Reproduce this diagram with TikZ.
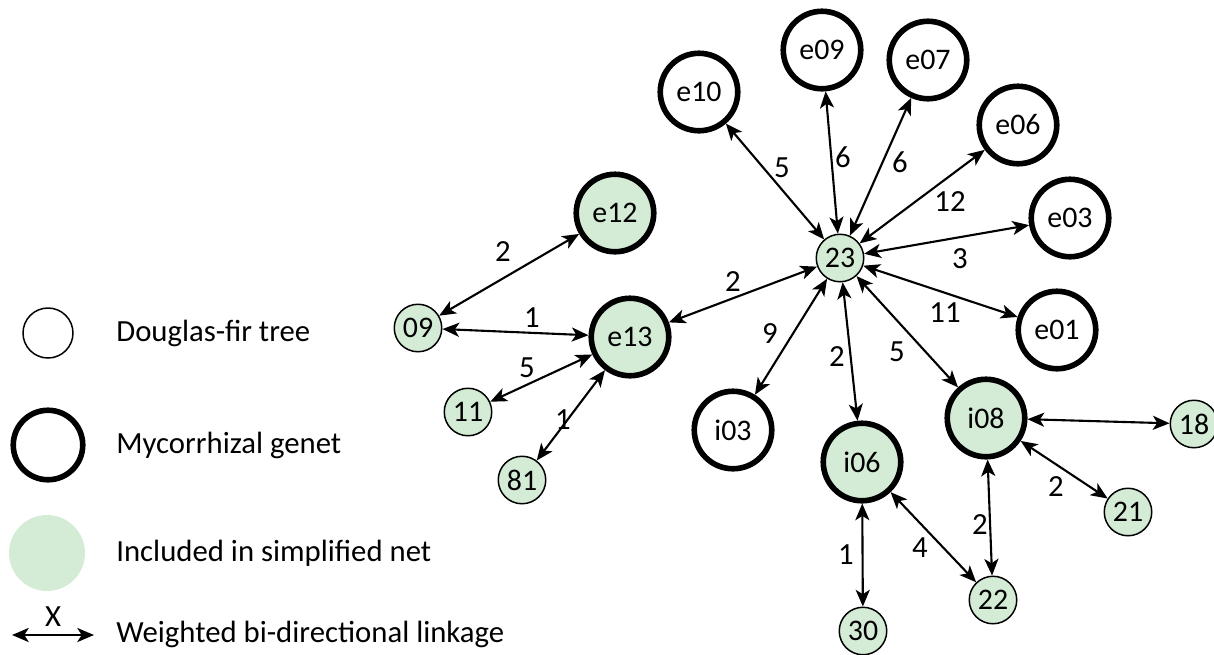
\documentclass[tikz,border=0pt]{standalone}
\usepackage{fontspec}
\setmainfont{Carlito}
\usetikzlibrary{arrows.meta}
\definecolor{netgreen}{RGB}{212,236,214}
\begin{document}
\begin{tikzpicture}[x=0.02cm,y=-0.02cm,
  nodetext/.style={font=\fontsize{17}{20}\selectfont},
  tree/.style={circle,draw,line width=3.2pt,minimum size=1.55cm,inner sep=0pt,nodetext},
  treegreen/.style={tree,fill=netgreen},
  small/.style={circle,draw,line width=0.85pt,fill=netgreen,minimum size=0.95cm,inner sep=0pt,nodetext},
  link/.style={{Stealth[length=9.5pt,width=8pt,inset=2.5pt]}-{Stealth[length=9.5pt,width=8pt,inset=2.5pt]},line width=1.2pt},
  lbl/.style={font=\fontsize{17.5}{20}\selectfont,inner sep=0pt},
  legtext/.style={font=\fontsize{17.5}{20}\selectfont,anchor=west,inner sep=0pt}]
\useasboundingbox (0,0) rectangle (1214,654);

% hub and outer genets
\node[small] (n23) at (840,258) {23};
\node[tree] (e10) at (699,92) {e10};
\node[tree] (e09) at (822,50) {e09};
\node[tree] (e07) at (928,60) {e07};
\node[tree] (e06) at (1018,125) {e06};
\node[tree] (e03) at (1070,218) {e03};
\node[tree] (e01) at (1057,330) {e01};
\node[treegreen] (e12) at (615,213) {e12};
\node[treegreen] (e13) at (630,337) {e13};
\node[tree] (i03) at (733,430) {i03};
\node[treegreen] (i06) at (862,462) {i06};
\node[treegreen] (i08) at (986,418) {i08};

% small trees
\node[small] (n09) at (418,328) {09};
\node[small] (n11) at (468,412) {11};
\node[small] (n81) at (522,480) {81};
\node[small] (n18) at (1194,424) {18};
\node[small] (n21) at (1128,512) {21};
\node[small] (n22) at (993,600) {22};
\node[small] (n30) at (863,631) {30};

% links from the hub
\draw[link] (n23) -- (e10);
\draw[link] (n23) -- (e09);
\draw[link] (n23) -- (e07);
\draw[link] (n23) -- (e06);
\draw[link] (n23) -- (e03);
\draw[link] (n23) -- (e01);
\draw[link] (n23) -- (e13);
\draw[link] (n23) -- (i03);
\draw[link] (n23) -- (i06);
\draw[link] (n23) -- (i08);

% other links
\draw[link] (n09) -- (e12);
\draw[link] (n09) -- (e13);
\draw[link] (n11) -- (e13);
\draw[link] (n81) -- (e13);
\draw[link] (i08) -- (n18);
\draw[link] (i08) -- (n21);
\draw[link] (i08) -- (n22);
\draw[link] (i06) -- (n22);
\draw[link] (i06) -- (n30);

% link weights
\node[lbl] at (782,168) {5};
\node[lbl] at (843,157) {6};
\node[lbl] at (900,162) {6};
\node[lbl] at (950,202) {12};
\node[lbl] at (960,259) {3};
\node[lbl] at (945,313) {11};
\node[lbl] at (733,282) {2};
\node[lbl] at (770,334) {9};
\node[lbl] at (837,357) {2};
\node[lbl] at (897,352) {5};
\node[lbl] at (503,252) {2};
\node[lbl] at (532,318) {1};
\node[lbl] at (527,368) {5};
\node[lbl] at (563,420) {1};
\node[lbl] at (1056,487) {2};
\node[lbl] at (980,525) {2};
\node[lbl] at (920,548) {4};
\node[lbl] at (846,555) {1};

% legend
\node[circle,draw,line width=0.85pt,minimum size=1.0cm,inner sep=0pt] (legtree) at (48,333) {};
\node[legtext] at (116,333) {Douglas-fir tree};
\node[circle,draw,line width=3.2pt,minimum size=1.39cm,inner sep=0pt] (leggenet) at (48,445) {};
\node[legtext] at (116,445) {Mycorrhizal genet};
\node[circle,fill=netgreen,minimum size=1.52cm,inner sep=0pt] (legnet) at (47,553) {};
\node[legtext] at (116,553) {Included in simplified net};
\coordinate (legA) at (12,635);
\coordinate (legB) at (94,635);
\draw[link] (legA) -- node[lbl,above=4pt] {X} (legB);
\node[legtext] at (116,634) {Weighted bi-directional linkage};
\end{tikzpicture}
\end{document}
